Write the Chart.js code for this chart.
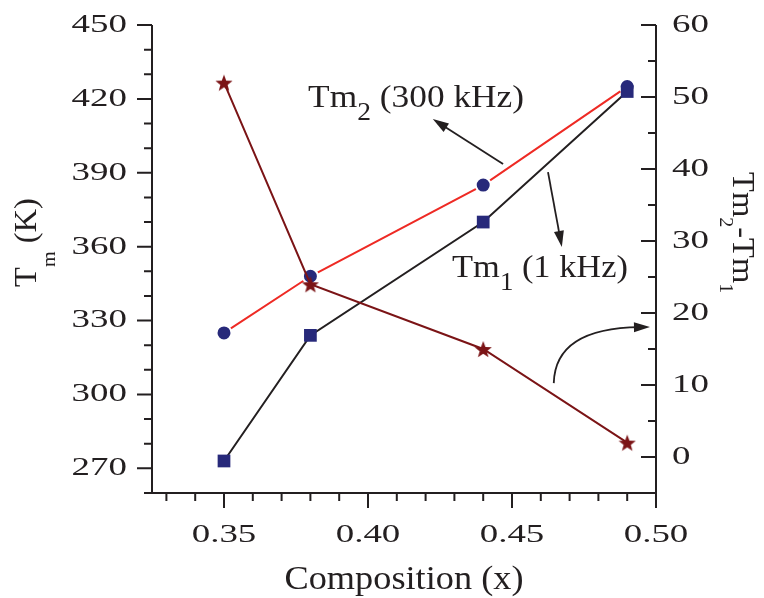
<!DOCTYPE html>
<html>
<head>
<meta charset="utf-8">
<script src="https://cdn.jsdelivr.net/npm/chart.js@4/dist/chart.umd.min.js"></script>
<style>
  html, body { margin: 0; padding: 0; background: #fff; }
  #wrap { width: 764px; height: 598px; }
</style>
</head>
<body>
<div id="wrap"><canvas id="c" width="764" height="598"></canvas></div>
<script>
// Composition dependence of the dielectric maxima
const composition = [0.35, 0.38, 0.44, 0.49];
const tm1 = [273, 324, 370, 423];          // Tm1 at 1 kHz (K)
const tm2 = [325, 348, 385, 425];          // Tm2 at 300 kHz (K)
const tmDiff = [52, 24, 15, 2];            // Tm2 - Tm1 (K), right axis

const xTicks = [0.35, 0.40, 0.45, 0.50];
const leftTicks = [270, 300, 330, 360, 390, 420, 450];
const rightTicks = [0, 10, 20, 30, 40, 50, 60];

const INK = '#231f20';
const SERIF = '"Liberation Serif", "Times New Roman", serif';

// filled five-pointed star used as the marker of the difference curve
function makeStar(size, color) {
  const c = document.createElement('canvas');
  c.width = size; c.height = size;
  const g = c.getContext('2d');
  const cx = size / 2, cy = size / 2 + size * 0.06, R = size / 2, r = R * 0.42;
  g.beginPath();
  for (let i = 0; i < 10; i++) {
    const a = -Math.PI / 2 + i * Math.PI / 5;
    const rr = i % 2 ? r : R;
    g.lineTo(cx + rr * Math.cos(a), cy + rr * Math.sin(a));
  }
  g.closePath();
  g.fillStyle = color;
  g.fill();
  return c;
}
const starMarker = makeStar(18, '#7b1416');

// text with optional subscripts, stretched horizontally by sx
function drawRich(ctx, parts, x, y, size, opts) {
  const o = Object.assign({ sx: 1, align: 'left', rot: 0, subScale: 0.75, subDrop: 0.42, baseline: 'alphabetic' }, opts);
  ctx.save();
  ctx.translate(x, y);
  if (o.rot) ctx.rotate(o.rot);
  ctx.scale(o.sx, 1);
  ctx.fillStyle = INK;
  ctx.textAlign = 'left';
  ctx.textBaseline = o.baseline;
  let total = 0;
  const items = parts.map(p => {
    const s = p.sub ? size * o.subScale : size;
    ctx.font = s + 'px ' + SERIF;
    const w = ctx.measureText(p.t).width;
    total += w;
    return { t: p.t, s, w, dy: p.sub ? size * o.subDrop : 0 };
  });
  let cx = o.align === 'right' ? -total : (o.align === 'center' ? -total / 2 : 0);
  items.forEach(it => {
    ctx.font = it.s + 'px ' + SERIF;
    ctx.fillText(it.t, cx, it.dy);
    cx += it.w;
  });
  ctx.restore();
}

function arrowHead(ctx, x, y, ang, len, half) {
  ctx.beginPath();
  ctx.moveTo(x, y);
  ctx.lineTo(x - len * Math.cos(ang) + half * Math.sin(ang), y - len * Math.sin(ang) - half * Math.cos(ang));
  ctx.lineTo(x - len * Math.cos(ang) - half * Math.sin(ang), y - len * Math.sin(ang) + half * Math.cos(ang));
  ctx.closePath();
  ctx.fill();
}

// annotation anchors in data units (x, left-axis value)
const labelTm2 = { x: 0.3792, y: 416.7 };
const labelTm1 = { x: 0.4292, y: 347.7 };
const arrowTm2 = [[0.4469, 393.6], [0.4225, 411.8]];
const arrowTm1 = [[0.4625, 390.3], [0.4673, 359.9]];
const arrowDiff = [[0.4645, 304.6], [0.4650, 327.0], [0.4979, 327.4]];

const axesPlugin = {
  id: 'frameAndLabels',
  beforeDatasetsDraw(chart) {
    const ctx = chart.ctx;
    const { left, right, top, bottom } = chart.chartArea;
    const sx = chart.scales.x, sy = chart.scales.y, sy2 = chart.scales.y2;
    ctx.save();
    ctx.strokeStyle = INK;
    ctx.lineWidth = 2;
    ctx.lineCap = 'butt';
    ctx.beginPath();
    ctx.moveTo(left, top); ctx.lineTo(left, bottom);
    ctx.moveTo(left - 8, bottom); ctx.lineTo(right + 1, bottom);
    ctx.moveTo(right, top); ctx.lineTo(right, bottom + 1);
    // left axis: majors every 30, minors every 10, pointing outward
    for (let v = 260; v <= 450; v += 10) {
      const p = sy.getPixelForValue(v);
      const major = leftTicks.includes(v);
      ctx.moveTo(left - (major ? 15 : 8), p); ctx.lineTo(left, p);
    }
    // right axis: majors every 10, minors every 5, pointing inward
    for (let v = 0; v <= 60; v += 5) {
      const p = sy2.getPixelForValue(v);
      const major = rightTicks.includes(v);
      ctx.moveTo(right - (major ? 15 : 8), p); ctx.lineTo(right, p);
    }
    // bottom axis: majors every 0.05, minors every 0.01
    for (let i = 33; i <= 50; i++) {
      const v = i / 100;
      const p = sx.getPixelForValue(v);
      const major = i % 5 === 0;
      ctx.moveTo(p, bottom); ctx.lineTo(p, bottom + (major ? 15 : 8));
    }
    ctx.stroke();
    ctx.restore();

    // tick labels
    leftTicks.forEach(v => drawRich(ctx, [{ t: String(v) }], 127, sy.getPixelForValue(v), 26, { sx: 1.42, align: 'right', baseline: 'middle' }));
    rightTicks.forEach(v => drawRich(ctx, [{ t: String(v) }], 672, sy2.getPixelForValue(v), 26, { sx: 1.42, align: 'left', baseline: 'middle' }));
    xTicks.forEach(v => drawRich(ctx, [{ t: v.toFixed(2) }], sx.getPixelForValue(v), 535, 26, { sx: 1.42, align: 'center', baseline: 'middle' }));

    // axis titles
    drawRich(ctx, [{ t: 'Composition (x)' }], (left + right) / 2, 589, 33, { sx: 1.1, align: 'center' });
    drawRich(ctx, [{ t: 'T' }, { t: 'm', sub: true }, { t: ' (K)' }], 36, 287, 31, { sx: 1.05, rot: -Math.PI / 2, subScale: 0.62, subDrop: 0.6 });
    drawRich(ctx, [{ t: 'Tm' }, { t: '2', sub: true }, { t: '-Tm' }, { t: '1', sub: true }], 733, 172, 31, { sx: 1.05, rot: Math.PI / 2, subScale: 0.62, subDrop: 0.42 });
  },
  afterDatasetsDraw(chart) {
    const ctx = chart.ctx;
    const sx = chart.scales.x, sy = chart.scales.y;
    const P = ([a, b]) => [sx.getPixelForValue(a), sy.getPixelForValue(b)];

    drawRich(ctx, [{ t: 'Tm' }, { t: '2', sub: true }, { t: ' (300 kHz)' }], sx.getPixelForValue(labelTm2.x), sy.getPixelForValue(labelTm2.y), 31, { sx: 1.14, subScale: 0.78, subDrop: 0.42 });
    drawRich(ctx, [{ t: 'Tm' }, { t: '1', sub: true }, { t: ' (1 kHz)' }], sx.getPixelForValue(labelTm1.x), sy.getPixelForValue(labelTm1.y), 31, { sx: 1.11, subScale: 0.78, subDrop: 0.42 });

    ctx.save();
    ctx.strokeStyle = INK;
    ctx.fillStyle = INK;
    ctx.lineWidth = 1.8;
    [arrowTm2, arrowTm1].forEach(seg => {
      const [x1, y1] = P(seg[0]), [x2, y2] = P(seg[1]);
      const ang = Math.atan2(y2 - y1, x2 - x1);
      ctx.beginPath();
      ctx.moveTo(x1, y1);
      ctx.lineTo(x2 - 10 * Math.cos(ang), y2 - 10 * Math.sin(ang));
      ctx.stroke();
      arrowHead(ctx, x2, y2, ang, 16, 5);
    });
    const [a0, a1, a2] = arrowDiff.map(P);
    const ang = Math.atan2(a2[1] - a1[1], a2[0] - a1[0]);
    ctx.beginPath();
    ctx.moveTo(a0[0], a0[1]);
    ctx.quadraticCurveTo(a1[0], a1[1], a2[0] - 10 * Math.cos(ang), a2[1] - 10 * Math.sin(ang));
    ctx.stroke();
    arrowHead(ctx, a2[0], a2[1], ang, 16, 5);
    ctx.restore();
  }
};

const pts = ys => composition.map((x, i) => ({ x, y: ys[i] }));

new Chart(document.getElementById('c'), {
  type: 'line',
  data: {
    datasets: [
      {
        label: 'Tm2-Tm1',
        data: pts(tmDiff),
        yAxisID: 'y2',
        borderColor: '#7b1416',
        borderWidth: 2,
        pointStyle: starMarker,
        pointRadius: 9,
        tension: 0
      },
      {
        label: 'Tm1 (1 kHz)',
        data: pts(tm1),
        yAxisID: 'y',
        borderColor: '#231f20',
        borderWidth: 2,
        pointStyle: 'rect',
        pointRadius: 9,
        pointBackgroundColor: '#27297a',
        pointBorderWidth: 0,
        tension: 0
      },
      {
        label: 'Tm2 (300 kHz)',
        data: pts(tm2),
        yAxisID: 'y',
        borderColor: '#ee2a24',
        borderWidth: 2,
        pointStyle: 'circle',
        pointRadius: 7.5,
        pointBackgroundColor: '#27297a',
        pointBorderColor: '#ffffff',
        pointBorderWidth: 2,
        tension: 0
      }
    ]
  },
  options: {
    responsive: false,
    animation: false,
    layout: { padding: { top: 25, left: 0, right: 0, bottom: 0 } },
    plugins: { legend: { display: false }, tooltip: { enabled: false } },
    scales: {
      x: {
        type: 'linear', min: 0.325, max: 0.50,
        grid: { display: false, drawTicks: false }, border: { display: false },
        ticks: { display: false },
        afterFit(s) { s.height = 105; }
      },
      y: {
        position: 'left', min: 260, max: 450,
        grid: { display: false, drawTicks: false }, border: { display: false },
        ticks: { display: false },
        afterFit(s) { s.width = 152; }
      },
      y2: {
        position: 'right', min: -5, max: 60,
        grid: { display: false, drawTicks: false }, border: { display: false },
        ticks: { display: false },
        afterFit(s) { s.width = 108; }
      }
    }
  },
  plugins: [axesPlugin]
});
</script>
</body>
</html>
